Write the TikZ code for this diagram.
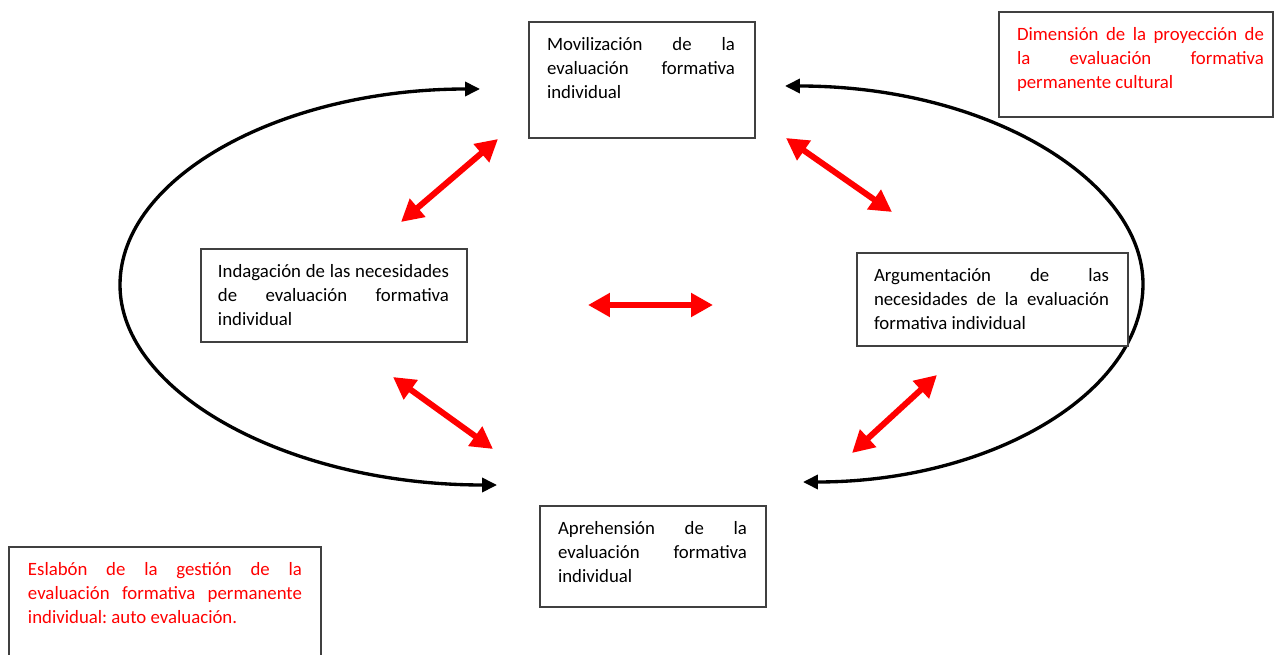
\documentclass[tikz,border=0pt]{standalone}
\usepackage{fontspec}
\setmainfont{Carlito}
\usetikzlibrary{arrows.meta}
\frenchspacing
\newdimen\pxl \pxl=0.5690551pt
\newcommand\bt[5]{\hspace*{#1\pxl}\parbox[t][#3\pxl][t]{#2\pxl}{\frenchspacing\rule{0pt}{29\pxl}#5}\hspace*{#4\pxl}}
\newcommand\jl[1]{\makebox[\linewidth][s]{#1}}
\begin{document}
\begin{tikzpicture}[x=0.02cm,y=-0.02cm,
  box/.style={draw=black!75, line width=0.8pt, fill=white, inner sep=0pt, outer sep=0pt,
    anchor=north west, font=\fontsize{10.7}{13.66}\selectfont},
  redtext/.style={box, text=red},
  blk/.style={line width=1.9pt, {Triangle[length=8.5pt,width=8pt]}-{Triangle[length=8.5pt,width=8pt]}},
  redarr/.style={red, line width=3.4pt, {Triangle[length=12.5pt,width=13pt]}-{Triangle[length=12.5pt,width=13pt]}}]
\useasboundingbox (0,0) rectangle (1275,655);
\clip (0,0) rectangle (1275,655);
% curve end points
\coordinate (lt) at (480,89);
\coordinate (lb) at (497,485);
\coordinate (lm) at (120,285);
\coordinate (rt) at (785,86);
\coordinate (rb) at (803,482);
\coordinate (rm) at (1143,284);
\draw[blk] (lt) .. controls (281,89) and (120,177) .. (lm) .. controls (120,393) and (289,485) .. (lb);
\draw[blk] (rt) .. controls (990,86) and (1143,182) .. (rm) .. controls (1143,393) and (991,482) .. (rb);
% boxes
\node (mov) [box] at (529,22) {\bt{18}{188}{116}{20}{\jl{Movilización de la}\\\jl{evaluación formativa}\\individual}};
\node (dim) [redtext] at (999,12) {\bt{18}{247}{105}{9}{\jl{Dimensión de la proyección de}\\\jl{la evaluación formativa}\\permanente cultural}};
\node (ind) [box] at (201,249) {\bt{17}{231}{93}{18}{\jl{Indagación de las necesidades}\\\jl{de evaluación formativa}\\individual}};
\node (arg) [box] at (857,253) {\bt{17}{235}{93}{19}{\jl{Argumentación de las}\\\jl{necesidades de la evaluación}\\formativa individual}};
\node (apr) [box] at (540,506) {\bt{18}{189}{101}{19}{\jl{Aprehensión de la}\\\jl{evaluación formativa}\\individual}};
\node (esl) [redtext] at (9,547) {\bt{19}{274}{130}{19}{\jl{Eslabón de la gestión de la}\\\jl{evaluación formativa permanente}\\individual: auto evaluación.}};
% red arrow ends
\coordinate (a1) at (401,222); \coordinate (b1) at (498,139);
\coordinate (a2) at (786,138); \coordinate (b2) at (892,212);
\coordinate (a3) at (588,305); \coordinate (b3) at (713,305);
\coordinate (a4) at (393,377); \coordinate (b4) at (493,449);
\coordinate (a5) at (937,375); \coordinate (b5) at (852,453);
\draw[redarr] (a1) -- (b1);
\draw[redarr] (a2) -- (b2);
\draw[redarr] (a3) -- (b3);
\draw[redarr] (a4) -- (b4);
\draw[redarr] (a5) -- (b5);
\end{tikzpicture}
\end{document}
